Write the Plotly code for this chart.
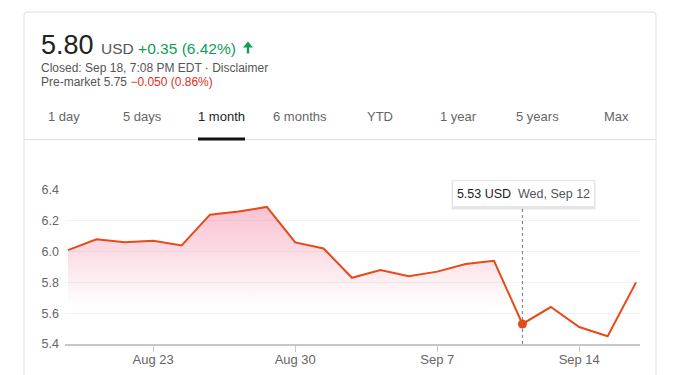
import plotly.graph_objects as go

# ---------------- data ----------------
dates = ["2018-08-20", "2018-08-21", "2018-08-22", "2018-08-23", "2018-08-24",
         "2018-08-27", "2018-08-28", "2018-08-29", "2018-08-30", "2018-08-31",
         "2018-09-04", "2018-09-05", "2018-09-06", "2018-09-07", "2018-09-10",
         "2018-09-11", "2018-09-12", "2018-09-13", "2018-09-14", "2018-09-17",
         "2018-09-18"]
prices = [6.01, 6.08, 6.06, 6.07, 6.04,
          6.24, 6.26, 6.29, 6.06, 6.02,
          5.83, 5.88, 5.84, 5.87, 5.92,
          5.94, 5.53, 5.64, 5.51, 5.45,
          5.80]
tick_dates = ["2018-08-23", "2018-08-30", "2018-09-07", "2018-09-14"]
tick_labels = ["Aug 23", "Aug 30", "Sep 7", "Sep 14"]
y_ticks = [5.4, 5.6, 5.8, 6.0, 6.2, 6.4]
tabs = ["1 day", "5 days", "1 month", "6 months", "YTD", "1 year", "5 years", "Max"]
active_tab = "1 month"
hover_date = "2018-09-12"
hover_label = "Wed, Sep 12"
price_now = "5.80"
currency = "USD"
change = "+0.35 (6.42%)"
closed_text = "Closed: Sep 18, 7:08 PM EDT · Disclaimer"
premarket_label = "Pre-market 5.75"
premarket_change = "\u22120.050 (0.86%)"

# ---------------- layout geometry (page pixels) ----------------
W, H = 688, 375
OFF = 8                               # default body margin of the html page
PL, PR, PT, PB = 65, 640, 190, 344    # plot area in page pixels


def px(x):
    return (x - PL) / (PR - PL)


def py(y):
    return (PB - y) / (PB - PT)


FONT = "Arial, Liberation Sans, Helvetica, sans-serif"
LINE = "#e64a19"
GRAY = "#666666"

hover_idx = dates.index(hover_date)
hover_price = prices[hover_idx]

fig = go.Figure()

fig.add_trace(go.Scatter(
    x=dates, y=prices, mode="lines",
    line=dict(color=LINE, width=2),
    fill="tozeroy",
    fillgradient=dict(type="vertical",
                      colorscale=[[0, "rgba(235,70,115,0)"],
                                  [1, "rgba(235,70,115,0.34)"]],
                      start=5.64, stop=6.3),
    hoverinfo="skip",
))
fig.add_trace(go.Scatter(
    x=[hover_date], y=[hover_price], mode="markers",
    marker=dict(color=LINE, size=9), hoverinfo="skip",
))

shapes = []
annotations = []

# card outline
shapes.append(dict(type="path", xref="paper", yref="paper",
                   path=f"M {px(24)},{py(400)} L {px(24)},{py(15)} Q {px(24)},{py(12)} {px(27)},{py(12)} "
                        f"L {px(653)},{py(12)} Q {px(656)},{py(12)} {px(656)},{py(15)} L {px(656)},{py(400)}",
                   line=dict(color="#e2e2e2", width=1), layer="below"))
# tab separator
shapes.append(dict(type="line", xref="paper", yref="paper",
                   x0=px(24), x1=px(656), y0=py(139.5), y1=py(139.5),
                   line=dict(color="#e0e0e0", width=1)))

# header
annotations.append(dict(
    xref="paper", yref="paper", x=px(39), y=py(45), xanchor="left", yanchor="middle",
    showarrow=False, align="left",
    text=(f"<span style='font-size:27px;color:#222222'>{price_now}</span>"
          f"<span style='font-size:27px'> </span>"
          f"<span style='font-size:15.5px;color:#555555'>{currency}</span>"
          f"<span style='font-size:15.5px;color:#0f9d58'> {change}</span>"),
    font=dict(family=FONT, size=15.5, color="#222222"),
))
# green arrow
shapes.append(dict(type="path", xref="paper", yref="paper",
                   path=f"M {px(243)},{py(47.5)} L {px(248)},{py(41.5)} L {px(253)},{py(47.5)} "
                        f"L {px(249.2)},{py(47.5)} L {px(249.2)},{py(53.5)} L {px(246.8)},{py(53.5)} "
                        f"L {px(246.8)},{py(47.5)} Z",
                   fillcolor="#0f9d58", line=dict(width=0)))
annotations.append(dict(
    xref="paper", yref="paper", x=px(39), y=py(68), xanchor="left", yanchor="middle",
    showarrow=False, text=closed_text,
    font=dict(family=FONT, size=12, color="#555555"),
))
annotations.append(dict(
    xref="paper", yref="paper", x=px(39), y=py(81.5), xanchor="left", yanchor="middle",
    showarrow=False,
    text=f"{premarket_label} <span style='color:#d93025'>{premarket_change}</span>",
    font=dict(family=FONT, size=12, color="#555555"),
))

# tabs
tab_centers = [64, 142, 221.5, 300, 379.5, 458, 537, 616]
for t, cx in zip(tabs, tab_centers):
    annotations.append(dict(
        xref="paper", yref="paper", x=px(cx), y=py(116.5), xanchor="center", yanchor="middle",
        showarrow=False, text=t,
        font=dict(family=FONT, size=13, color="#222222" if t == active_tab else GRAY),
    ))
shapes.append(dict(type="rect", xref="paper", yref="paper",
                   x0=px(198), x1=px(245), y0=py(137.5), y1=py(140.5),
                   fillcolor="#111111", line=dict(width=0)))

# hover crosshair
shapes.append(dict(type="line", xref="x", yref="paper",
                   x0=hover_date, x1=hover_date, y0=0, y1=py(207),
                   line=dict(color="#777777", width=1, dash="dot")))

# tooltip (shadow + box)
annotations.append(dict(
    xref="x", yref="paper", x=hover_date, y=py(193.5), xshift=1, yshift=-1.5,
    xanchor="center", yanchor="middle", showarrow=False, text=" ",
    width=139, height=23, bgcolor="rgba(0,0,0,0.10)", borderpad=2,
    font=dict(family=FONT, size=12),
))
annotations.append(dict(
    xref="x", yref="paper", x=hover_date, y=py(193.5), xshift=1,
    xanchor="center", yanchor="middle", showarrow=False,
    text=f"<span style='color:#222222'>{hover_price:.2f} {currency}</span>  "
         f"<span style='color:#555555'>{hover_label}</span>",
    width=139, height=23, bgcolor="white", bordercolor="#e4e4e4", borderwidth=1, borderpad=1,
    font=dict(family=FONT, size=12.5, color="#222222"),
))

fig.update_layout(
    width=W, height=H,
    margin=dict(l=PL - OFF, r=W - (PR - OFF), t=PT - OFF, b=H - (PB - OFF), pad=0),
    paper_bgcolor="white", plot_bgcolor="white",
    showlegend=False, hovermode=False,
    font=dict(family=FONT, size=12, color=GRAY),
    shapes=shapes, annotations=annotations,
    xaxis=dict(type="category", range=[-0.106, len(dates) - 1 + 0.14],
               tickmode="array", tickvals=tick_dates, ticktext=tick_labels,
               showgrid=False, zeroline=False,
               showline=True, linecolor="#c8c8c8", linewidth=1.5,
               ticks="outside", ticklen=6, tickcolor="#c8c8c8",
               ticklabelstandoff=-3,
               tickfont=dict(family=FONT, size=13, color=GRAY)),
    yaxis=dict(range=[5.4, 6.4], tickmode="array", tickvals=y_ticks,
               ticktext=[f"{v:.1f}" for v in y_ticks],
               showgrid=True, gridcolor="#f2f2f2", gridwidth=1,
               zeroline=False, showline=False, ticks="",
               ticklabelstandoff=5,
               tickfont=dict(family=FONT, size=12.5, color=GRAY)),
)

fig.write_html("out.html", config={"displayModeBar": False})
